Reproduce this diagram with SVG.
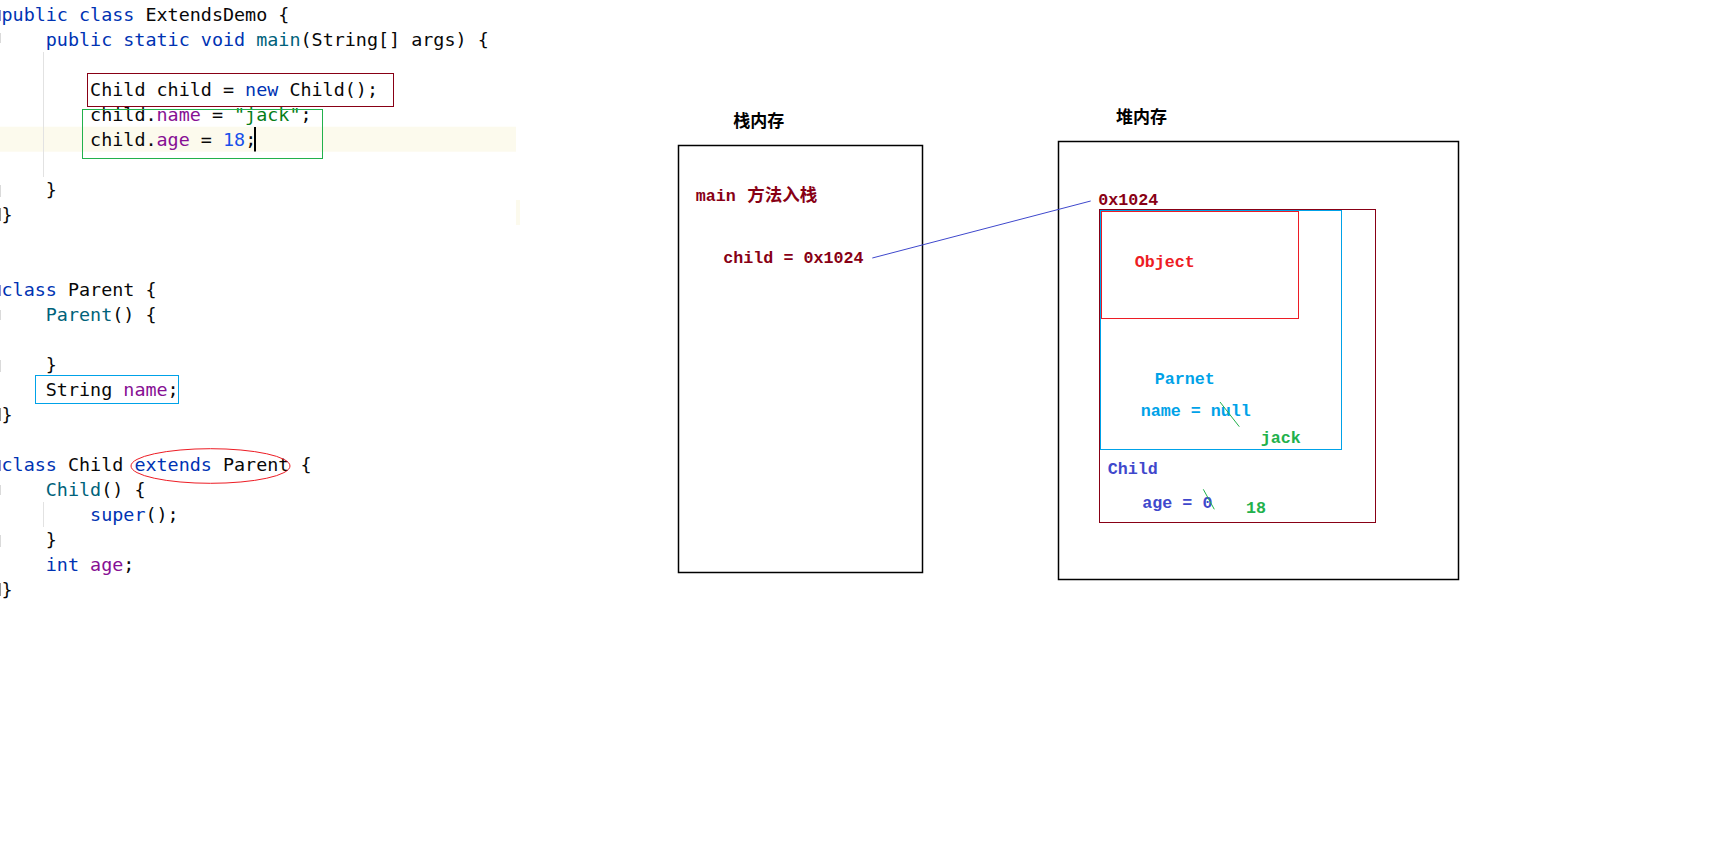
<svg xmlns="http://www.w3.org/2000/svg" width="1736" height="851" viewBox="0 0 1736 851">
<style>
.code{font-family:"DejaVu Sans Mono","Liberation Mono",monospace;font-size:18.4px;fill:#080808;white-space:pre}
.kw{fill:#0033b3}.md{fill:#00627a}.fd{fill:#871094}.st{fill:#067d17}.nm{fill:#1750eb}
.pt{font-family:"Liberation Mono",monospace;font-size:16.7px;font-weight:bold;white-space:pre}
.cjk{font-family:"Noto Sans CJK SC",sans-serif;font-weight:bold}
.box{fill:none;stroke:#000;stroke-width:1.5}
.r{fill:none;stroke-width:1}
</style>
<rect width="1736" height="851" fill="#fff"/>
<g id="code-editor">
<rect x="0" y="126.7" width="516" height="25" fill="#fcfaed"/>
<rect x="516" y="200" width="4" height="25" fill="#fcfaed"/>
<line x1="43.5" y1="52" x2="43.5" y2="177" stroke="#e2e2e2" stroke-width="1"/>
<line x1="43.5" y1="502" x2="43.5" y2="527" stroke="#e2e2e2" stroke-width="1"/>
<g fill="#dadada">
<rect x="0" y="33" width="1" height="10"/><rect x="0" y="185" width="1" height="12"/>
<rect x="0" y="310" width="1" height="10"/><rect x="0" y="360" width="1" height="12"/>
<rect x="0" y="485" width="1" height="10"/><rect x="0" y="535" width="1" height="12"/>
</g>
<g fill="#8a96d8">
<rect x="0" y="10" width="1" height="11"/><rect x="0" y="285" width="1" height="11"/><rect x="0" y="460" width="1" height="11"/>
</g>
<g fill="#999">
<rect x="0" y="208" width="1" height="13"/><rect x="0" y="408" width="1" height="13"/><rect x="0" y="583" width="1" height="13"/>
</g>
<text class="code" x="1.5" y="20.7"><tspan class="kw">public class</tspan> ExtendsDemo {</text>
<text class="code" x="45.8" y="45.7"><tspan class="kw">public static void</tspan> <tspan class="md">main</tspan>(String[] args) {</text>
<text class="code" x="90.1" y="95.7">Child child = <tspan class="kw">new</tspan> Child();</text>
<text class="code" x="90.1" y="120.7">child.<tspan class="fd">name</tspan> = <tspan class="st">"jack"</tspan>;</text>
<text class="code" x="90.1" y="145.7">child.<tspan class="fd">age</tspan> = <tspan class="nm">18</tspan>;</text>
<rect x="254" y="127" width="2" height="24.5" fill="#000"/>
<text class="code" x="45.8" y="195.7">}</text>
<text class="code" x="1.5" y="220.7">}</text>
<text class="code" x="1.5" y="295.7"><tspan class="kw">class</tspan> Parent {</text>
<text class="code" x="45.8" y="320.7"><tspan class="md">Parent</tspan>() {</text>
<text class="code" x="45.8" y="370.7">}</text>
<text class="code" x="45.8" y="395.7">String <tspan class="fd">name</tspan>;</text>
<text class="code" x="1.5" y="420.7">}</text>
<text class="code" x="1.5" y="470.7"><tspan class="kw">class</tspan> Child <tspan class="kw">extends</tspan> Parent {</text>
<text class="code" x="45.8" y="495.7"><tspan class="md">Child</tspan>() {</text>
<text class="code" x="90.1" y="520.7"><tspan class="kw">super</tspan>();</text>
<text class="code" x="45.8" y="545.7">}</text>
<text class="code" x="45.8" y="570.7"><tspan class="kw">int</tspan> <tspan class="fd">age</tspan>;</text>
<text class="code" x="1.5" y="595.7">}</text>
</g>
<g id="code-marks">
<rect class="r" x="87.5" y="73.5" width="306" height="33" stroke="#880015"/>
<rect class="r" x="82.5" y="109.5" width="240" height="49" stroke="#22b14c"/>
<rect class="r" x="35.5" y="375.5" width="143" height="28" stroke="#00a2e8"/>
<ellipse class="r" cx="210.5" cy="466" rx="79.5" ry="17.3" stroke="#ed1c24"/>
</g>
<g id="stack">
<text class="cjk" x="733.3" y="126.7" font-size="17">栈内存</text>
<rect class="box" x="678.5" y="145.5" width="244" height="427"/>
<text class="pt" x="695.7" y="201" fill="#880015">main <tspan class="cjk" x="747.3" font-size="17.5">方法入栈</tspan></text>
<text class="pt" x="723.3" y="263.3" fill="#880015">child = 0x1024</text>
</g>
<g id="heap">
<text class="cjk" x="1116" y="123.3" font-size="17">堆内存</text>
<rect class="box" x="1058.5" y="141.5" width="400" height="438"/>
<text class="pt" x="1098.3" y="205" fill="#880015">0x1024</text>
</g>
<g id="child-object">
<rect class="r" x="1099.5" y="209.5" width="276" height="313" stroke="#880015"/>
<text class="pt" x="1107.7" y="474" fill="#3f48cc">Child</text>
<text class="pt" x="1142.3" y="507.7" fill="#3f48cc">age = 0</text>
<line x1="1203.3" y1="489.3" x2="1214.3" y2="509.3" stroke="#22b14c" stroke-width="1"/>
<text class="pt" x="1246" y="513.3" fill="#22b14c">18</text>
</g>
<g id="parent-object">
<rect class="r" x="1100.5" y="210.5" width="241" height="239" stroke="#00a2e8"/>
<text class="pt" x="1154.7" y="384" fill="#00a2e8">Parnet</text>
<text class="pt" x="1140.7" y="416" fill="#00a2e8">name = null</text>
<line x1="1220" y1="402" x2="1239.3" y2="426.7" stroke="#22b14c" stroke-width="1"/>
<text class="pt" x="1260.7" y="442.7" fill="#22b14c">jack</text>
</g>
<g id="object-object">
<rect class="r" x="1101.5" y="211.5" width="197" height="107" stroke="#ed1c24"/>
<text class="pt" x="1134.7" y="266.7" fill="#ed1c24">Object</text>
</g>
<g id="connectors">
<line x1="872.3" y1="258" x2="1090.7" y2="201" stroke="#3f48cc" stroke-width="1"/>
</g>
</svg>
